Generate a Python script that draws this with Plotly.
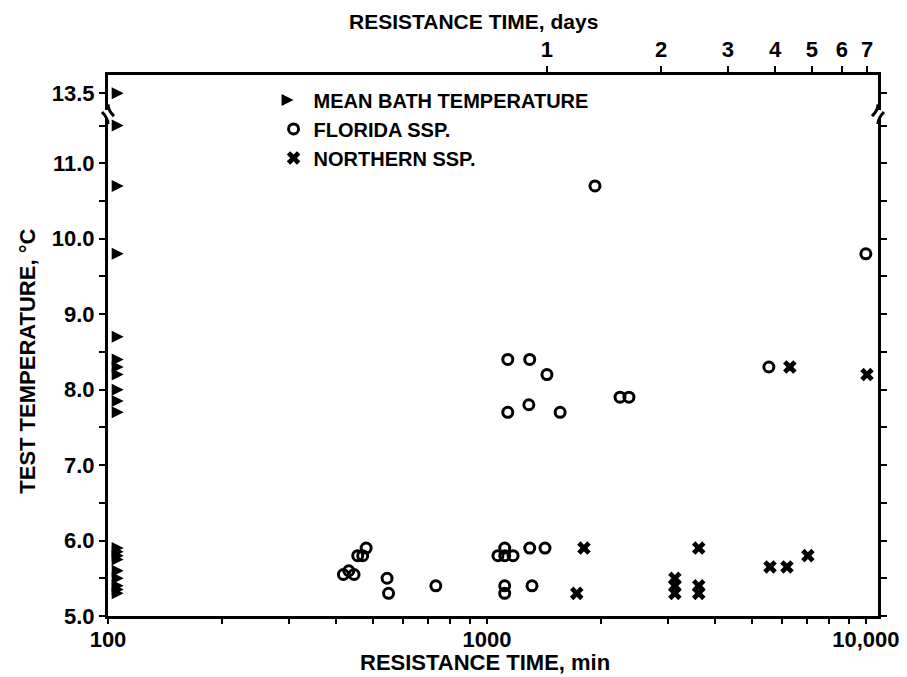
import plotly.graph_objects as go

# ---------------- data ----------------
# Mean bath temperatures (marked along the left axis)
bath_temp = [13.5, 11.5, 10.7, 9.8, 8.7, 8.4, 8.3, 8.2, 8.0, 7.85, 7.7,
             5.9, 5.85, 5.8, 5.75, 5.6, 5.5, 5.4, 5.35, 5.3]
BATH_X = 110  # minutes, marker column next to the axis

# Florida ssp. : resistance time (min), test temperature (C)
fl_time = [418, 432, 446, 456, 470, 480, 545, 550, 733,
           1069, 1114, 1172, 1114, 1297, 1423,
           1114, 1114, 1315,
           1135, 1297, 1440, 1135, 1290, 1560, 2245, 2370,
           1928, 5546, 10000]
fl_temp = [5.55, 5.6, 5.55, 5.8, 5.8, 5.9, 5.5, 5.3, 5.4,
           5.8, 5.8, 5.8, 5.9, 5.9, 5.9,
           5.4, 5.3, 5.4,
           8.4, 8.4, 8.2, 7.7, 7.8, 7.7, 7.9, 7.9,
           10.7, 8.3, 9.8]

# Northern ssp.
no_time = [1803, 1726, 3133, 3133, 3133, 3622, 3622, 3622,
           5585, 6190, 7030, 6300, 10070]
no_temp = [5.9, 5.3, 5.5, 5.4, 5.3, 5.9, 5.4, 5.3,
           5.65, 5.65, 5.8, 8.3, 8.2]

min_ticks = [100, 200, 300, 400, 500, 600, 700, 800, 900,
             1000, 2000, 3000, 4000, 5000, 6000, 7000, 8000, 9000, 10000]
min_labels = ["100", "", "", "", "", "", "", "", "",
              "1000", "", "", "", "", "", "", "", "", "10,000"]
day_ticks = [1, 2, 3, 4, 5, 6, 7]
y_ticks = [5.0, 5.5, 6.0, 6.5, 7.0, 7.5, 8.0, 8.5, 9.0, 9.5, 10.0, 10.5, 11.0, 11.5]
y_labels = ["5.0", "", "6.0", "", "7.0", "", "8.0", "", "9.0", "", "10.0", "", "11.0", ""]

# ---------------- figure ----------------
FONT = "Liberation Sans, Arial, sans-serif"
BLACK = "#000000"

low_bath = [t for t in bath_temp if t < 12]
high_bath = [t for t in bath_temp if t >= 12]

fig = go.Figure()
fig.add_trace(go.Scatter(x=[BATH_X] * len(low_bath), y=low_bath, mode="markers",
                         name="MEAN BATH TEMPERATURE", legendgroup="a",
                         marker=dict(symbol="arrow-right", size=12, color=BLACK,
                                     line=dict(width=0)),
                         xaxis="x", yaxis="y"))
fig.add_trace(go.Scatter(x=[BATH_X] * len(high_bath), y=high_bath, mode="markers",
                         showlegend=False,
                         marker=dict(symbol="arrow-right", size=12, color=BLACK,
                                     line=dict(width=0)),
                         xaxis="x2", yaxis="y2"))
fig.add_trace(go.Scatter(x=fl_time, y=fl_temp, mode="markers", name="FLORIDA SSP.",
                         legendgroup="b",
                         marker=dict(symbol="circle-open", size=10, color=BLACK,
                                     line=dict(width=3, color=BLACK)),
                         xaxis="x", yaxis="y"))
fig.add_trace(go.Scatter(x=no_time, y=no_temp, mode="markers", name="NORTHERN SSP.",
                         legendgroup="c",
                         marker=dict(symbol="x", size=12, color=BLACK,
                                     line=dict(width=0)),
                         xaxis="x", yaxis="y"))

LOW_TOP = 0.9205
HIGH_BOT = 0.935
TICK_FONT = dict(family=FONT, size=22, color=BLACK, weight="bold")
TITLE_FONT = dict(family=FONT, size=22, color=BLACK, weight="bold")

axis_common = dict(showline=True, linecolor=BLACK, linewidth=3, showgrid=False,
                   zeroline=False, tickcolor=BLACK, tickwidth=2, tickfont=TICK_FONT)

fig.update_layout(
    width=907, height=677,
    margin=dict(l=100, r=37, t=67, b=69),
    paper_bgcolor="white", plot_bgcolor="white",
    font=dict(family=FONT, color=BLACK, weight="bold"),
    showlegend=True,
    legend=dict(x=0.215, y=0.99, xanchor="left", yanchor="top",
                bgcolor="rgba(0,0,0,0)", traceorder="grouped", tracegroupgap=0,
                font=dict(family=FONT, size=20, color=BLACK, weight="bold")),
    xaxis=dict(type="log", range=[2, 4.032], domain=[0, 1], anchor="y",
               tickvals=min_ticks, ticktext=min_labels, ticks="outside", ticklen=5,
               ticklabelstandoff=-3, mirror=False, **axis_common),
    xaxis2=dict(type="log", range=[2, 4.032], domain=[0, 1], anchor="y2", side="top",
                tickvals=[d * 1440 for d in day_ticks], ticktext=[str(d) for d in day_ticks],
                ticks="outside", ticklen=6, mirror=False, **axis_common),
    yaxis=dict(range=[5.0, 11.6], domain=[0, LOW_TOP], anchor="x",
               tickvals=y_ticks, ticktext=y_labels, ticks="outside", ticklen=6,
               mirror="ticks", **axis_common),
    yaxis2=dict(range=[13.275, 13.74], domain=[HIGH_BOT, 1], anchor="x2",
                tickvals=[13.5], ticktext=["13.5"], ticks="outside", ticklen=6,
                mirror="ticks", **axis_common),
)

# axis titles
fig.add_annotation(text="RESISTANCE TIME, min", xref="paper", yref="paper",
                   x=0.49, y=0, yshift=-46, showarrow=False, yanchor="middle",
                   font=TITLE_FONT)
fig.add_annotation(text="RESISTANCE TIME, days", xref="paper", yref="paper",
                   x=0.475, y=1, yshift=54, showarrow=False, yanchor="middle",
                   font=dict(family=FONT, size=21, color=BLACK, weight="bold"))
fig.add_annotation(text="TEST TEMPERATURE, °C", xref="paper", yref="paper",
                   x=0, xshift=-80, y=0.47, showarrow=False, textangle=-90,
                   xanchor="center", font=TITLE_FONT)

# axis break marks (left and right)
dx, dy = 6 / 770, 6 / 541
for xe, sgn in ((0, -1), (1, 1)):
    fig.add_shape(type="path", xref="paper", yref="paper",
                  path=f"M {xe} {LOW_TOP - dy} Q {xe} {LOW_TOP} {xe + sgn * dx} {LOW_TOP + dy}",
                  line=dict(color=BLACK, width=3))
    fig.add_shape(type="path", xref="paper", yref="paper",
                  path=f"M {xe} {HIGH_BOT + dy} Q {xe} {HIGH_BOT} {xe - sgn * dx} {HIGH_BOT - dy}",
                  line=dict(color=BLACK, width=3))

fig.write_html("out.html")
